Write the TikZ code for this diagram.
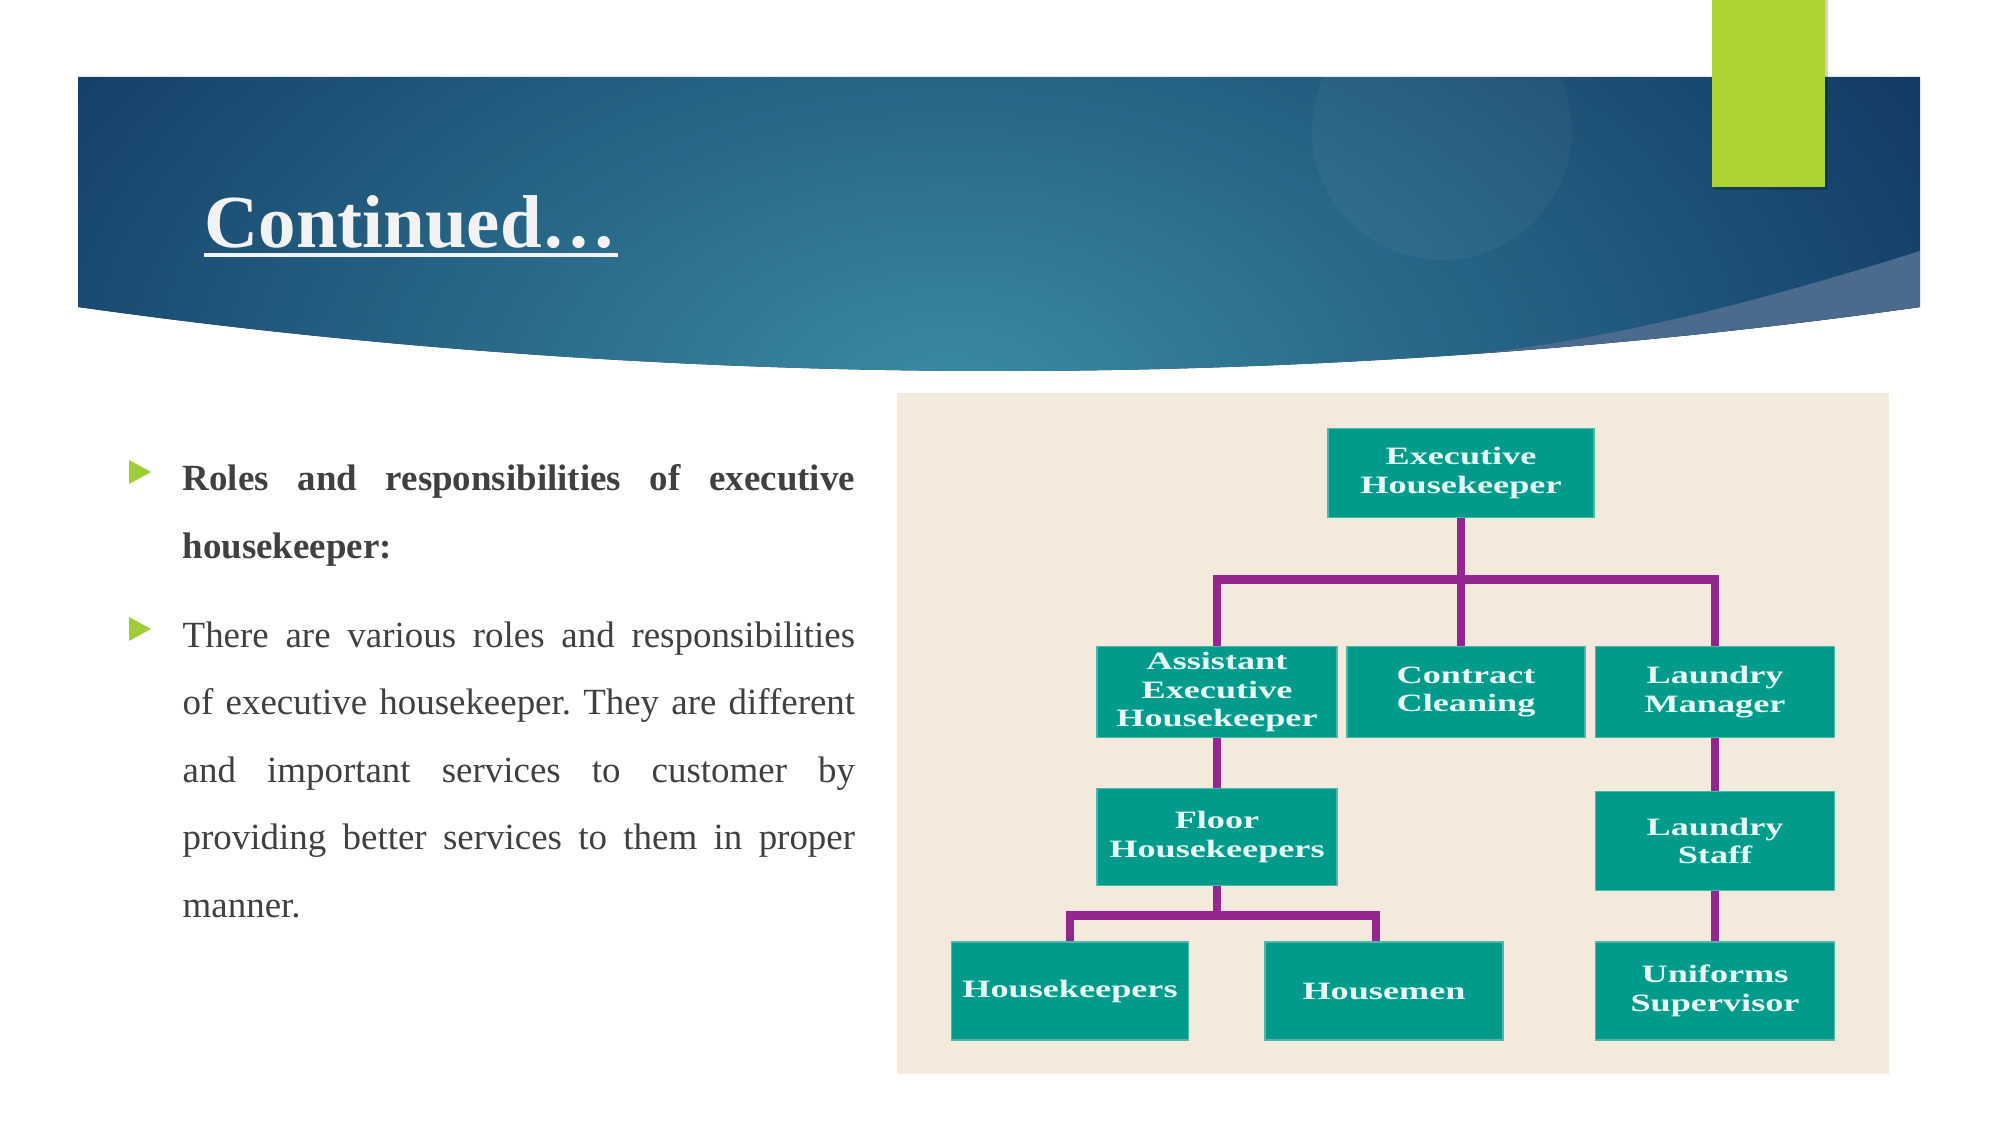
\documentclass[tikz,border=0pt]{standalone}
\usepackage{fontspec}
\setmainfont{Liberation Serif}
\newfontfamily\boxfont[FakeStretch=1.45]{Liberation Serif}
\usetikzlibrary{calc,positioning}
\definecolor{bannernavy}{HTML}{0B2B59}
\definecolor{bannerlight}{HTML}{3A8CA3}
\definecolor{swoosh}{HTML}{4A6A8E}
\definecolor{lime}{HTML}{ABD433}
\definecolor{bulletgreen}{HTML}{A0CC3A}
\definecolor{panelbg}{HTML}{F3EADC}
\definecolor{orgteal}{HTML}{009B8A}
\definecolor{orgedge}{HTML}{4DB8AA}
\definecolor{orgtext}{HTML}{E8FAF6}
\definecolor{orgpurple}{HTML}{93268F}
\definecolor{textgray}{HTML}{404040}
\definecolor{titlewhite}{HTML}{F2F2F2}
\tikzset{
  % chart
  orgbox/.style={draw=orgedge,line width=0.4pt,fill=orgteal,text=orgtext,
                 font=\boxfont\bfseries\fontsize{7.1}{8.1}\selectfont,
                 align=center,inner sep=0pt},
  orgline/.style={draw=orgpurple,line width=2.5pt},
  % text
  slidetitle/.style={anchor=base west,inner sep=0pt,text=titlewhite,
                     font=\fontsize{21.3}{26}\selectfont\bfseries},
  bodytext/.style={anchor=base west,inner sep=0pt,text width=6.72cm,
                   align=justify,text=textgray,
                   font=\fontsize{10.5}{19.2}\selectfont\frenchspacing},
  bullet/.style={fill=bulletgreen},
}
\begin{document}
\begin{tikzpicture}[x=0.01cm,y=-0.01cm]
\useasboundingbox[fill=white] (0,0) rectangle (2001,1125);
% banner
\begin{scope}
  \clip (78,77) -- (1920,77) -- (1920,307) parabola bend (999,371) (78,307) -- cycle;
  \fill[bannernavy] (78,77) rectangle (1920,380);
  \shade[inner color=bannerlight,outer color=bannernavy] (950,400) ellipse (1300 and 800);
  \fill[white,opacity=0.04] (1442,130) circle (130);
  \fill[swoosh] (1920,251) .. controls (1700,320) and (1550,352) .. (1380,362)
    -- (1380,400) -- (1920,400) -- cycle;
\end{scope}
\fill[black,opacity=0.18] (1715,0) rectangle (1828,190);
\fill[lime] (1712,0) rectangle (1825,187);
\node[slidetitle] (title) at (204,248) {Continued…};
\draw[titlewhite,line width=0.9pt] ($(title.base west)+(0,7)$) -- ($(title.base east)+(0,7)$);

% bullets
\fill[bullet] (129,460) -- (151,472) -- (129,484) -- cycle;
\node[bodytext,font=\fontsize{10.5}{19.2}\selectfont\bfseries] (roles) at (182,491)
  {Roles and responsibilities of executive\linebreak housekeeper:};
\fill[bullet] (129,617) -- (151,629) -- (129,641) -- cycle;
\node[bodytext] (desc) at (182,647)
  {There are various roles and responsibilities\linebreak
   of executive housekeeper. They are different\linebreak
   and important services to customer by\linebreak
   providing better services to them in proper\linebreak
   manner.};

% chart
\fill[panelbg] (897,393) rectangle (1889,1074);
\node[orgbox,minimum width=2.66cm,minimum height=0.89cm] (exec) at (1461,473) {Executive\\Housekeeper};
\node[orgbox,minimum width=2.40cm,minimum height=0.91cm] (asst) at (1217,692) {Assistant\\Executive\\Housekeeper};
\node[orgbox,minimum width=2.38cm,minimum height=0.91cm] (contract) at (1466,692) {Contract\\Cleaning};
\node[orgbox,minimum width=2.39cm,minimum height=0.91cm] (laundrym) at (1715,692) {Laundry\\Manager};
\node[orgbox,minimum width=2.40cm,minimum height=0.97cm] (floor) at (1217,837) {Floor\\Housekeepers};
\node[orgbox,minimum width=2.39cm,minimum height=0.99cm] (laundrys) at (1715,841) {Laundry\\Staff};
\node[orgbox,minimum width=2.37cm,minimum height=0.98cm] (hk) at (1070,991) {Housekeepers};
\node[orgbox,minimum width=2.38cm,minimum height=0.98cm] (hm) at (1384,991) {Housemen};
\node[orgbox,minimum width=2.39cm,minimum height=0.98cm] (uniform) at (1715,991) {Uniforms\\Supervisor};

\coordinate (topbar) at ($(exec.south)+(0,61)$);
\coordinate (lowbar) at ($(floor.south)+(0,29)$);
\draw[orgline] (exec.south) -- (exec.south |- contract.north);
\draw[orgline] (asst.north) |- (topbar) -| (laundrym.north);
\draw[orgline] (asst) -- (floor);
\draw[orgline] (laundrym) -- (laundrys);
\draw[orgline] (laundrys) -- (uniform);
\draw[orgline] (floor.south) -- (lowbar);
\draw[orgline] (hk.north) |- (lowbar) -| ($(hm.north)+(-8,0)$);
\end{tikzpicture}
\end{document}
